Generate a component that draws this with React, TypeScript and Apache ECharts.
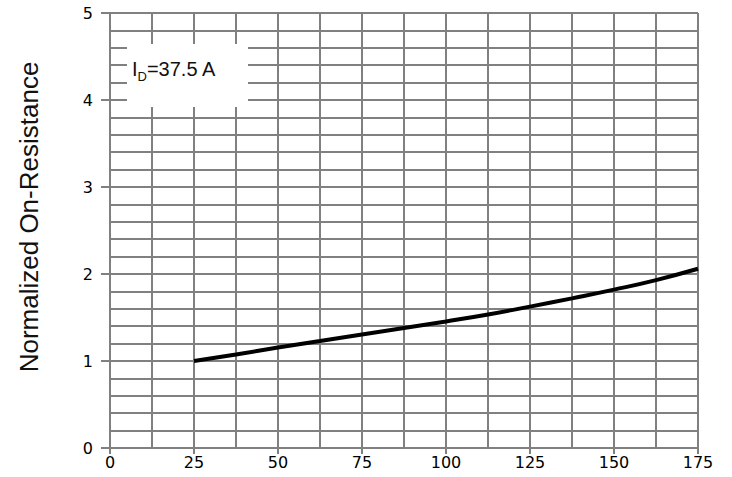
import React, { useEffect, useRef } from "react";
import * as echarts from "echarts";

const temperatures = [25, 37.5, 50, 62.5, 75, 87.5, 100, 112.5, 125, 137.5, 150, 162.5, 175];
const onResistance = [1.0, 1.075, 1.155, 1.23, 1.305, 1.38, 1.455, 1.535, 1.625, 1.72, 1.82, 1.93, 2.06];
const yAxisTitle = "Normalized On-Resistance";
const annotationMain = "I";
const annotationSub = "D";
const annotationRest = "=37.5 A";

export default function App() {
  const ref = useRef<HTMLDivElement>(null);
  useEffect(() => {
    if (!ref.current) return;
    const chart = echarts.init(ref.current, null, { renderer: "svg" });
    const font = "'Liberation Sans', Arial, sans-serif";
    const tickFont = "'DejaVu Sans', sans-serif";
    const gridColor = "#808080";
    chart.setOption({
      animation: false,
      backgroundColor: "#ffffff",
      grid: { left: 110, right: 34, top: 13, bottom: 29, containLabel: false },
      xAxis: {
        type: "value",
        min: 0,
        max: 175,
        interval: 25,
        axisLine: { show: true, onZero: false, lineStyle: { color: gridColor, width: 2 } },
        axisTick: { show: true, length: 6, lineStyle: { color: gridColor, width: 2 } },
        axisLabel: { color: "#000", fontSize: 16, fontFamily: tickFont, margin: 6 },
        splitLine: { show: true, lineStyle: { color: gridColor, width: 2 } },
        minorTick: { show: false, splitNumber: 2 },
        minorSplitLine: { show: true, lineStyle: { color: gridColor, width: 2 } },
      },
      yAxis: {
        type: "value",
        min: 0,
        max: 5,
        interval: 1,
        axisLine: { show: true, lineStyle: { color: gridColor, width: 2 } },
        axisTick: { show: true, length: 9, lineStyle: { color: gridColor, width: 2 } },
        axisLabel: { color: "#000", fontSize: 16, fontFamily: tickFont, margin: 17 },
        splitLine: { show: true, lineStyle: { color: gridColor, width: 2 } },
        minorTick: { show: false, splitNumber: 5 },
        minorSplitLine: { show: true, lineStyle: { color: gridColor, width: 2 } },
      },
      graphic: [
        {
          type: "text",
          x: 29,
          y: 217,
          rotation: Math.PI / 2,
          style: {
            text: yAxisTitle,
            fontSize: 26,
            fontFamily: font,
            fill: "#111",
            align: "center",
            verticalAlign: "middle",
          },
        },
        {
          type: "rect",
          shape: { x: 127, y: 44, width: 121, height: 63 },
          style: { fill: "#ffffff" },
          z: 10,
        },
        {
          type: "text",
          x: 132,
          y: 59,
          z: 11,
          style: {
            text: `{m|${annotationMain}}{s|${annotationSub}}{m|${annotationRest}}`,
            rich: {
              m: { fontSize: 20, fontFamily: font, fill: "#111", verticalAlign: "bottom" },
              s: { fontSize: 13, fontFamily: font, fill: "#111", verticalAlign: "bottom", padding: [0, 0, -4, 0] },
            },
          },
        },
      ],
      series: [
        {
          type: "line",
          data: temperatures.map((t, i) => [t, onResistance[i]]),
          smooth: true,
          showSymbol: false,
          lineStyle: { color: "#000", width: 4 },
          z: 5,
        },
      ],
    });
    return () => chart.dispose();
  }, []);
  return <div ref={ref} style={{ width: 732, height: 477, position: "absolute", left: 0, top: 0 }} />;
}
